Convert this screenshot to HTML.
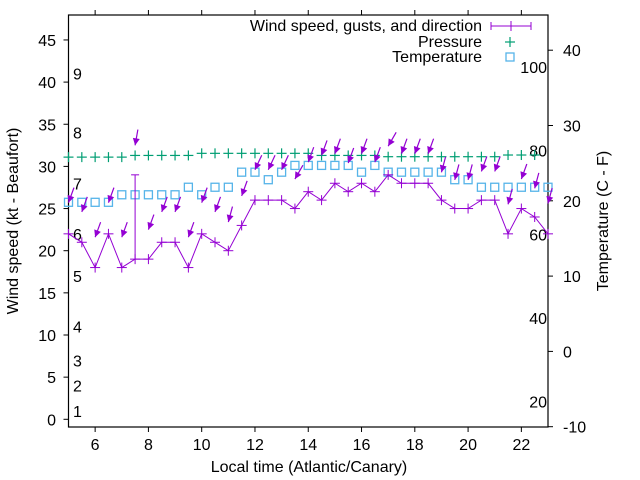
<!DOCTYPE html>
<html><head><meta charset="utf-8"><style>
html,body{margin:0;padding:0;background:#fff}
svg{display:block;font-family:"Liberation Sans",sans-serif}
</style></head><body>
<svg id="chart" width="640" height="480" viewBox="0 0 640 480">
<g id="g"></g>
</svg>
<script>
const hours = [5,5.5,6,6.5,7,7.5,8,8.5,9,9.5,10,10.5,11,11.5,12,12.5,13,13.5,14,14.5,15,15.5,16,16.5,17,17.5,18,18.5,19,19.5,20,20.5,21,21.5,22,22.5,23];
const windKt = [22,21,18,22,18,19,19,21,21,18,22,21,20,23,26,26,26,25,27,26,28,27,28,27,29,28,28,28,26,25,25,26,26,22,25,24,22];
const gustKt = [22,21,18,22,18,29,19,21,21,18,22,21,20,23,26,26,26,25,27,26,28,27,28,27,29,28,28,28,26,25,25,26,26,22,25,24,22];
const arrowKt = [25.7,24.6,21.6,25.7,21.6,32.5,22.5,24.6,24.6,21.6,25.7,24.6,23.4,26.5,29.6,29.6,29.6,28.5,30.5,31.3,31.5,30.4,31.5,30.5,32.4,31.5,31.5,31.5,29.3,28.4,28.4,29.4,29.4,25.5,28.5,27.4,25.6];
const windDir = [20,20,20,20,20,10,20,20,20,20,20,20,15,20,25,25,25,30,20,20,20,20,20,20,30,20,20,20,15,15,15,20,20,15,20,15,15];
const pressureScaled = [31.1,31.1,31.1,31.1,31.1,31.3,31.3,31.3,31.3,31.3,31.55,31.55,31.55,31.55,31.55,31.55,31.55,31.55,31.55,31.3,31.3,31.3,31.3,31.3,31.15,31.15,31.15,31.15,31.15,31.15,31.15,31.15,31.15,31.35,31.35,31.35];
const tempC = [19.8,19.8,19.8,19.8,20.8,20.8,20.8,20.8,20.8,21.8,20.8,21.8,21.8,23.8,23.8,22.8,23.8,24.7,24.7,24.7,24.7,24.7,23.8,24.7,23.8,23.8,23.8,23.8,23.8,22.8,22.8,21.8,21.8,21.8,21.8,21.8,21.8];
const xTicks = [6,8,10,12,14,16,18,20,22];
const yLeftTicks = [0,5,10,15,20,25,30,35,40,45];
const yRightTicks = [-10,0,10,20,30,40];
const beaufortKt = [1,4,7,11,17,22,28,34,41];
const beaufortLabels = ["1","2","3","4","5","6","7","8","9"];
const fahrenheitTicks = [20,40,60,80,100];

const L=68.5,R=548,T=15,B=427;
const xS=h=>L+(h-5)*(R-L)/18;
const yL=v=>419.3-v*8.43;
const yR=c=>426.7-(c+10)*7.53;
const NS="http://www.w3.org/2000/svg";
const g=document.getElementById('g');
function el(tag,attrs,parent){const e=document.createElementNS(NS,tag);for(const k in attrs)e.setAttribute(k,attrs[k]);(parent||g).appendChild(e);return e;}
function txt(x,y,s,anchor,size,parent){const t=el('text',{x:x,y:y,'text-anchor':anchor,'font-size':size||16,fill:'#000'},parent);t.textContent=s;return t;}
const PUR='#9400d3',GRN='#009e73',BLU='#56b4e9';

// border
const box=el('rect',{x:L,y:T,width:R-L,height:B-T,fill:'none',stroke:'#000','stroke-width':1.2});



xTicks.forEach(h=>{
  const x=xS(h);
  el('line',{x1:x,y1:B,x2:x,y2:B+5,stroke:'#000'});
  el('line',{x1:x,y1:T,x2:x,y2:T-5,stroke:'#000'});
  const t=txt(x,450,String(h),'middle');
  
  
});
yLeftTicks.forEach(v=>{
  const y=yL(v);
  el('line',{x1:L,y1:y,x2:L-5,y2:y,stroke:'#000'});
  const t=txt(56,y+6,String(v),'end');
  
  
});
yRightTicks.forEach(v=>{
  const y=yR(v);
  el('line',{x1:R,y1:y,x2:R+5,y2:y,stroke:'#000'});
  const t=txt(563,y+6,String(v),'start');
  
  
});
beaufortKt.forEach((k,i)=>{
  const t=txt(73,yL(k)+6,beaufortLabels[i],'start');
  
  
});
fahrenheitTicks.forEach(f=>{
  const c=(f-32)*5/9;
  const t=txt(547,yR(c)+6,String(f),'end');
  
  
});

// titles
let t=txt(309,472,'Local time (Atlantic/Canary)','middle');


t=txt(0,0,'Wind speed (kt - Beaufort)','middle');
t.setAttribute('transform','translate(18,221) rotate(-90)');


t=txt(0,0,'Temperature (C - F)','middle');
t.setAttribute('transform','translate(608,221) rotate(-90)');



function plus(x,y,c,s){el('line',{x1:x-s,y1:y,x2:x+s,y2:y,stroke:c});el('line',{x1:x,y1:y-s,x2:x,y2:y+s,stroke:c});}

// temperature
tempC.forEach((c,i)=>{
  const r=el('rect',{x:xS(hours[i])-4,y:yR(c)-4,width:8,height:8,fill:'none',stroke:BLU,'stroke-width':1.3});
  
  
});
// pressure
pressureScaled.forEach((p,i)=>{
  const gg=el('g',{});
  
  
  const x=xS(hours[i]),y=yL(p);
  el('line',{x1:x-5,y1:y,x2:x+5,y2:y,stroke:GRN,'stroke-width':1.2},gg);
  el('line',{x1:x,y1:y-5,x2:x,y2:y+5,stroke:GRN,'stroke-width':1.2},gg);
});
// wind line
const pl=el('polyline',{points:windKt.map((v,i)=>xS(hours[i])+','+yL(v)).join(' '),fill:'none',stroke:PUR,'stroke-width':1});


windKt.forEach((v,i)=>{
  const x=xS(hours[i]);
  const gg=el('g',{});
  
  
  el('line',{x1:x-5,y1:yL(v),x2:x+5,y2:yL(v),stroke:PUR},gg);
  el('line',{x1:x,y1:yL(v)-5,x2:x,y2:yL(v)+5,stroke:PUR},gg);
  if(gustKt[i]>v){
    el('line',{x1:x,y1:yL(v),x2:x,y2:yL(gustKt[i]),stroke:PUR},gg);
    el('line',{x1:x-4,y1:yL(gustKt[i]),x2:x+4,y2:yL(gustKt[i]),stroke:PUR},gg);
  }
});
// direction arrows
arrowKt.forEach((k,i)=>{
  const x=xS(hours[i]),y=yL(k);
  const a=windDir[i]*Math.PI/180;
  const dx=Math.sin(a),dy=-Math.cos(a);
  const len=16;
  const gg=el('g',{});
  
  
  el('line',{x1:x,y1:y,x2:x+dx*len,y2:y+dy*len,stroke:PUR,'stroke-width':1.2},gg);
  const px=-dy,py=dx;
  const hx=x+dx*7,hy=y+dy*7;
  el('polygon',{points:`${x},${y} ${hx+px*3.5},${hy+py*3.5} ${hx-px*3.5},${hy-py*3.5}`,fill:PUR},gg);
});

// legend
const lg=el('g',{});


t=txt(482,31,'Wind speed, gusts, and direction','end',16,lg);


el('line',{x1:491,y1:26,x2:531,y2:26,stroke:PUR},lg);
el('line',{x1:491,y1:22,x2:491,y2:30,stroke:PUR},lg);
el('line',{x1:531,y1:22,x2:531,y2:30,stroke:PUR},lg);
el('line',{x1:511,y1:21,x2:511,y2:31,stroke:PUR},lg);
t=txt(482,47,'Pressure','end',16,lg);


el('line',{x1:505,y1:42,x2:515,y2:42,stroke:GRN,'stroke-width':1.2},lg);
el('line',{x1:510,y1:37,x2:510,y2:47,stroke:GRN,'stroke-width':1.2},lg);
t=txt(482,62,'Temperature','end',16,lg);


el('rect',{x:506,y:53,width:8,height:8,fill:'none',stroke:BLU,'stroke-width':1.3},lg);
</script>
</body></html>
